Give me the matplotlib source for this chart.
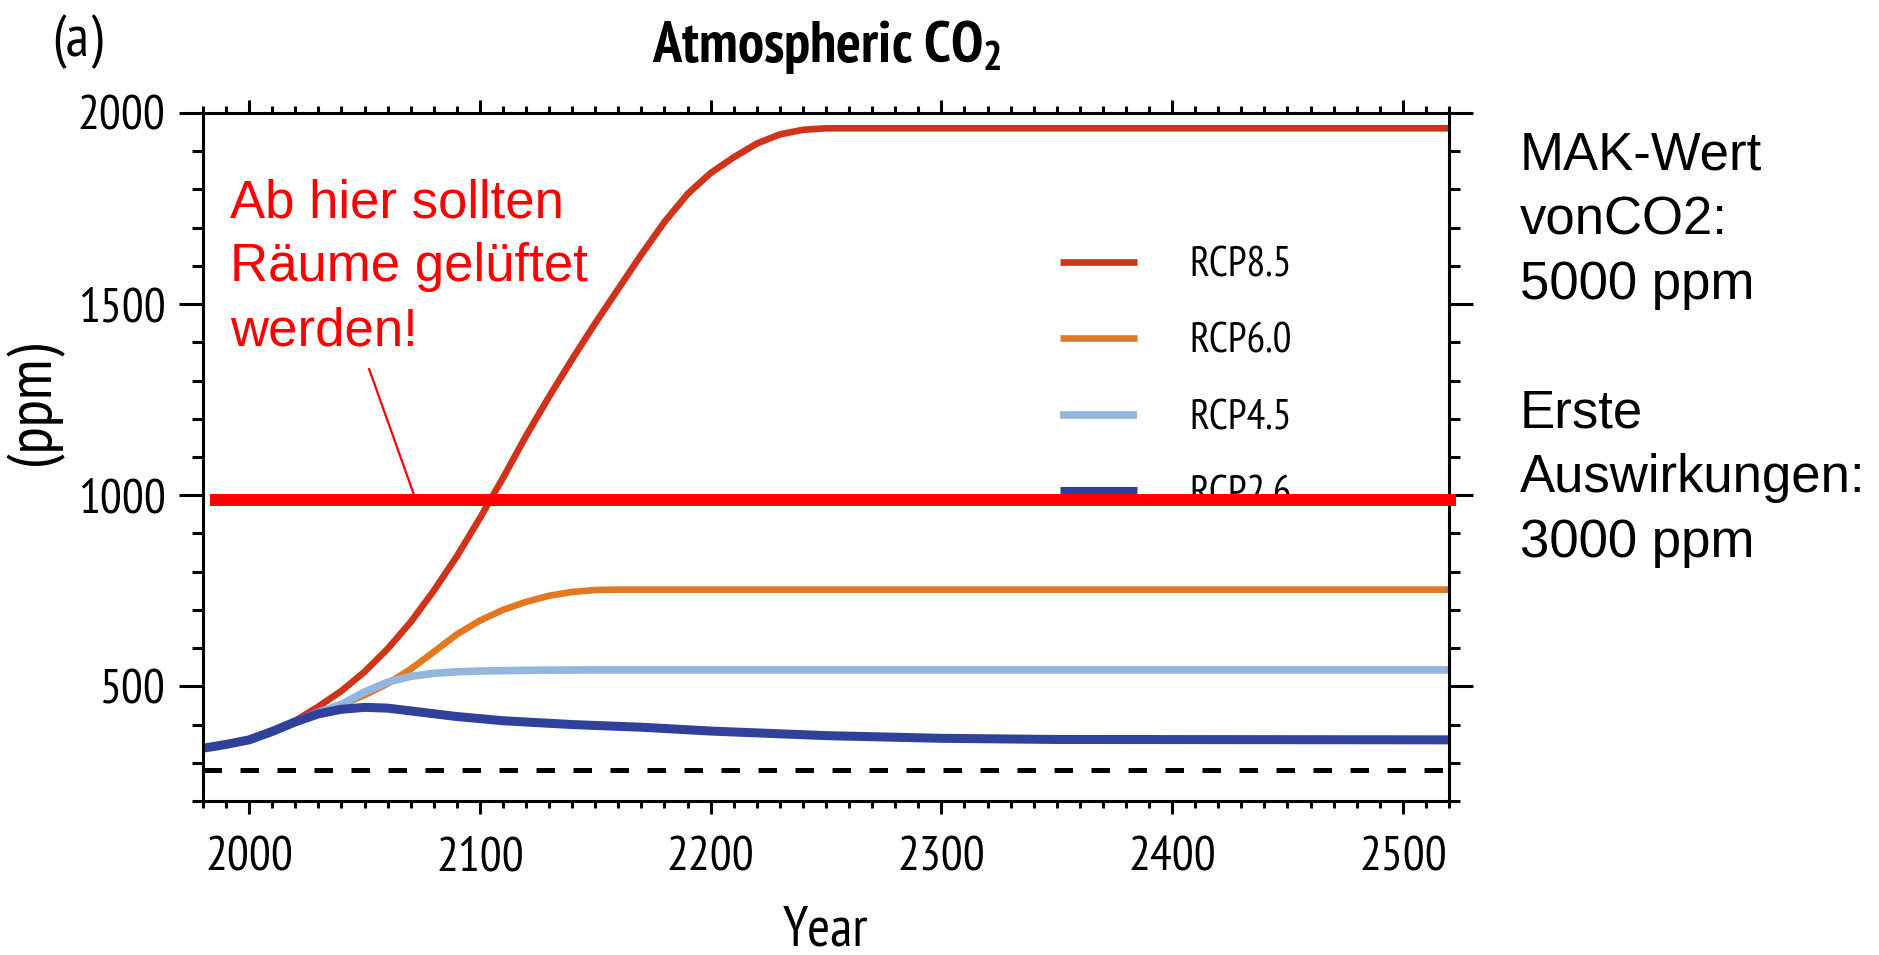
import matplotlib
matplotlib.use('Agg')
import matplotlib.pyplot as plt
from matplotlib import font_manager
from matplotlib.ticker import MultipleLocator

# Schriften: schmale Schrift fuer die Originalgrafik, Arial-Ersatz fuer die Notizen
installed = {f.name for f in font_manager.fontManager.ttflist}
kandidaten = ['PT Sans Narrow', 'Roboto Condensed', 'IBM Plex Sans Condensed',
              'Liberation Sans Narrow', 'Liberation Sans']
NARROW = next(n for n in kandidaten if n in installed or n == 'Liberation Sans')
ARIAL = 'Liberation Sans'

plt.rcParams['font.family'] = [NARROW, 'DejaVu Sans']
plt.rcParams['mathtext.fontset'] = 'custom'
plt.rcParams['mathtext.rm'] = NARROW
plt.rcParams['mathtext.default'] = 'regular'

# Daten (ppm)
jahre_85 = [1980, 1990, 2000, 2010, 2020, 2030, 2040, 2050, 2060, 2070, 2080, 2090,
            2100, 2110, 2120, 2130, 2140, 2150, 2160, 2170, 2180, 2190, 2200, 2210,
            2220, 2230, 2240, 2250, 2520]
rcp85 = [338, 348, 360, 382, 410, 447, 488, 538, 598, 668, 750, 840,
         940, 1045, 1155, 1258, 1356, 1450, 1540, 1630, 1715, 1788, 1843, 1884,
         1920, 1944, 1956, 1960, 1960]

jahre_60 = [1980, 1990, 2000, 2010, 2020, 2030, 2040, 2050, 2060, 2070, 2080, 2090,
            2100, 2110, 2120, 2130, 2140, 2150, 2160, 2520]
rcp60 = [338, 348, 360, 382, 407, 432, 452, 477, 507, 545, 590, 636,
         672, 700, 721, 737, 747, 752, 753, 753]

jahre_45 = [1980, 1990, 2000, 2010, 2020, 2030, 2040, 2050, 2060, 2070, 2080, 2090,
            2100, 2120, 2150, 2520]
rcp45 = [338, 348, 360, 382, 407, 432, 453, 485, 511, 526, 534, 538,
         540, 542, 543, 543]

jahre_26 = [1980, 1990, 2000, 2010, 2020, 2030, 2040, 2050, 2060, 2075, 2090, 2110,
            2140, 2170, 2200, 2250, 2300, 2350, 2520]
rcp26 = [338, 348, 360, 382, 407, 428, 440, 445, 443, 432, 421, 410,
         400, 393, 383, 371, 364, 361, 360]

szenarien = ['RCP8.5', 'RCP6.0', 'RCP4.5', 'RCP2.6']
farben = ['#cf3319', '#e2781f', '#93b6de', '#30419b']
breiten = [4.8, 4.8, 5.5, 6.5]

vorindustriell = 280
grenzwert = 988
grenz_jahre = [1983, 2523]
zeiger_jahre = [2052, 2071.5]
zeiger_ppm = [1330, 1000]

W, H = 1879, 955
fig = plt.figure(figsize=(W / 100, H / 100), dpi=100)
fig.patch.set_facecolor('white')


def px(x, y):
    """Pixelposition (von oben links) in Figurenkoordinaten."""
    return x / W, 1 - y / H


ax = fig.add_axes([203 / W, 1 - 801 / H, (1449 - 203) / W, (801 - 113) / H])

reihen = [(jahre_85, rcp85), (jahre_60, rcp60), (jahre_45, rcp45), (jahre_26, rcp26)]
for (j, v), name, farbe, lw in zip(reihen, szenarien, farben, breiten):
    ax.plot(j, v, color=farbe, linewidth=lw, label=name, solid_capstyle='butt')

ax.axhline(vorindustriell, color='black', linewidth=3.6, linestyle=(0, (3.7, 3.7)))

ax.set_xlim(1980, 2520)
ax.set_ylim(200, 2000)

# Achsen und Ticks
for sp in ax.spines.values():
    sp.set_linewidth(2.2)
ax.xaxis.set_major_locator(MultipleLocator(100))
ax.xaxis.set_minor_locator(MultipleLocator(10))
ax.yaxis.set_major_locator(MultipleLocator(500))
ax.yaxis.set_minor_locator(MultipleLocator(100))
ax.tick_params(axis='both', which='both', direction='out', top=True, right=True, width=2.2)
ax.tick_params(axis='y', which='major', length=17, pad=10, labelsize=35)
ax.tick_params(axis='y', which='minor', length=8)
ax.tick_params(axis='x', which='major', length=9.5, pad=16, labelsize=35)
ax.tick_params(axis='x', which='minor', length=5)
ax.set_yticks([500, 1000, 1500, 2000])

leg = ax.legend(loc='center left', bbox_to_anchor=px(1060, 380.5),
                bbox_transform=fig.transFigure, frameon=False, fontsize=30,
                handlelength=1.85, handletextpad=1.25, labelspacing=0.9,
                borderpad=0, borderaxespad=0)

# Roter Grenzwert mit Notiz
ax.plot(grenz_jahre, [grenzwert, grenzwert], color='#ff0000', linewidth=8.6,
        solid_capstyle='butt', clip_on=False, zorder=6)
ax.plot(zeiger_jahre, zeiger_ppm, color='#ff0000', linewidth=1.6, zorder=6)
fig.text(*px(230, 178), 'Ab hier sollten\nRäume gelüftet\nwerden!', color='#ff0000',
         fontsize=38, family=ARIAL, ha='left', va='top', linespacing=1.37)

fig.text(*px(1520, 131), 'MAK-Wert\nvonCO2:\n5000 ppm\n\nErste\nAuswirkungen:\n3000 ppm',
         color='black', fontsize=38, family=ARIAL, ha='left', va='top', linespacing=1.37)

# Beschriftungen
fig.text(*px(827, 62), r'Atmospheric CO$_2$', fontsize=42, fontweight='bold',
         ha='center', va='baseline')
fig.text(*px(78, 42), '(a)', fontsize=42, ha='center', va='center')
fig.text(*px(34, 403), '(ppm)', fontsize=45, rotation=90, ha='center', va='center')
fig.text(*px(826, 945), 'Year', fontsize=40, ha='center', va='baseline')

fig.savefig('out.png', dpi=100, facecolor='white')
